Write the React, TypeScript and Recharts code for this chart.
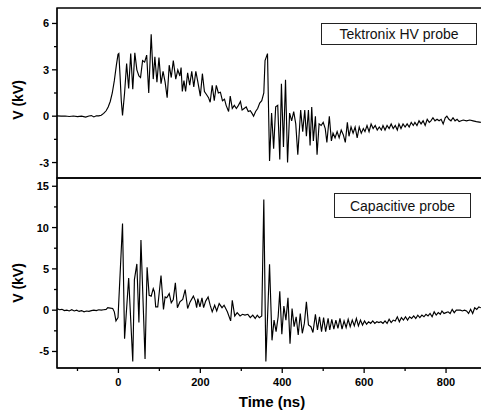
import { Legend, Line, LineChart, ReferenceArea, XAxis, YAxis } from 'recharts';

const FONT = '"Liberation Sans", Arial, sans-serif';

// axis ticks (minor ticks sit between the labelled ones)
const timeTicks = [-100, 0, 100, 200, 300, 400, 500, 600, 700, 800];
const timeLabels = [0, 200, 400, 600, 800];
const hvTicks = [-3, -1.5, 0, 1.5, 3, 4.5, 6];
const hvLabels = [-3, 0, 3, 6];
const capTicks = [-5, -2.5, 0, 2.5, 5, 7.5, 10, 12.5, 15];
const capLabels = [-5, 0, 5, 10, 15];

// [time (ns), voltage (kV)]
const hvProbe: [number, number][] = [
  [-150, 0.02], [-140, 0.0], [-130, 0.01], [-120, -0.02], [-110, 0.01], [-100, -0.03], [-90, 0.0], [-80, -0.06],
  [-72, 0.01], [-66, 0.04], [-60, -0.05], [-54, 0.03], [-48, 0.02], [-42, 0.06], [-36, 0.18], [-30, 0.35],
  [-25, 0.6], [-20, 0.95], [-15, 1.5], [-10, 2.3], [-5, 3.3], [-1, 4.0], [1, 4.05], [4, 2.6], [7, 1.0], [10, 0.05],
  [15, 1.5], [20, 3.4], [25, 1.8], [30, 4.05], [35, 1.75], [40, 4.1], [45, 3.0], [50, 2.6], [54, 2.5], [59, 3.6],
  [64, 3.5], [69, 3.95], [74, 1.5], [80, 5.3], [85, 2.4], [89, 3.85], [94, 2.2], [99, 3.8], [104, 2.1], [109, 2.9],
  [114, 2.2], [119, 1.2], [124, 3.3], [129, 2.5], [134, 3.6], [140, 2.4], [145, 3.0], [150, 2.6], [153, 3.15],
  [156, 1.6], [160, 2.3], [164, 1.6], [169, 2.8], [174, 2.0], [179, 2.9], [184, 1.9], [189, 2.9], [194, 2.2],
  [200, 1.3], [205, 2.75], [210, 1.6], [215, 1.4], [220, 1.2], [224, 0.9], [229, 2.0], [234, 1.0], [239, 2.0],
  [244, 1.5], [249, 1.55], [254, 1.0], [259, 1.1], [263, 0.7], [269, 0.3], [273, 1.3], [278, 0.5], [283, 0.7],
  [288, 0.5], [293, 0.7], [298, 0.95], [302, 0.4], [307, 0.5], [312, 0.6], [317, 0.3], [322, 0.35], [327, 0.15],
  [330, 0.0], [335, 0.3], [340, 0.5], [345, 0.85], [350, 1.0], [355, 1.5], [358, 3.6], [364, 4.05], [369, -2.9],
  [374, 0.2], [379, -2.1], [384, 0.6], [389, 0.7], [394, -2.8], [398, 2.1], [403, -2.0], [408, 2.35], [413, -3.0],
  [418, 0.2], [423, -0.3], [428, 0.3], [433, -0.5], [438, -2.5], [445, 0.4], [450, -1.0], [455, 0.4], [459, -1.3],
  [464, 0.4], [468, -1.9], [472, 0.6], [476, -1.6], [481, 0.0], [485, -2.5], [490, -0.5], [495, -0.6], [500, -0.4],
  [505, -0.8], [509, -1.7], [515, 0.0], [520, -1.6], [524, -1.1], [529, -1.4], [534, -1.0], [539, -1.4],
  [544, -0.9], [549, -1.2], [554, -1.7], [559, -0.4], [563, -1.3], [568, -0.7], [573, -1.1], [578, -0.7],
  [583, -1.4], [588, -0.7], [593, -1.1], [598, -0.8], [602, -1.0], [607, -0.6], [612, -1.0], [617, -0.5],
  [622, -0.8], [627, -0.6], [632, -0.9], [637, -0.7], [642, -0.9], [646, -0.6], [651, -0.9], [656, -0.6],
  [661, -0.8], [666, -0.5], [671, -0.8], [676, -0.6], [681, -0.9], [685, -0.5], [690, -0.8], [695, -0.5],
  [700, -0.7], [705, -0.5], [710, -0.7], [715, -0.4], [720, -0.6], [724, -0.4], [729, -0.6], [734, -0.3],
  [739, -0.5], [744, -0.3], [749, -0.6], [754, -0.2], [759, -0.4], [763, -0.3], [768, -0.1], [773, -0.3],
  [778, -0.2], [783, -0.3], [788, -0.2], [793, -0.5], [798, -0.1], [802, 0.0], [807, -0.2], [812, -0.3],
  [817, -0.1], [822, -0.3], [827, -0.2], [832, -0.35], [837, -0.3], [842, -0.25], [850, -0.3], [858, -0.25],
  [866, -0.3], [874, -0.35], [885, -0.4],
];

const capProbe: [number, number][] = [
  [-150, 0.2], [-144, 0.05], [-138, 0.1], [-132, -0.05], [-126, 0.0], [-120, -0.1], [-114, 0.05], [-108, -0.1],
  [-102, 0.0], [-96, -0.15], [-90, -0.05], [-84, -0.2], [-78, -0.1], [-72, -0.15], [-66, -0.05], [-60, 0.0],
  [-54, -0.05], [-48, 0.05], [-42, 0.0], [-36, 0.05], [-30, 0.1], [-26, 0.3], [-20, 0.25], [-14, 0.2],
  [-10, -0.2], [-6, -1.3], [-1, -0.9], [10, 10.5], [15, -3.45], [25, 3.9], [35, -6.2], [39, 3.7], [45, 5.6],
  [50, -1.5], [55, 8.5], [65, -5.9], [70, 5.2], [75, 1.8], [80, 1.7], [85, 2.6], [88, 2.2], [91, 0.4], [96, 0.4],
  [104, 4.2], [110, 0.1], [114, 1.6], [118, 1.5], [124, 2.0], [129, 0.9], [134, 1.3], [139, 3.3], [144, 0.3],
  [150, 1.0], [157, 1.3], [163, 2.5], [169, 0.2], [175, 1.0], [183, 1.7], [188, 1.1], [191, 0.3], [194, 1.4],
  [199, 0.4], [204, 1.5], [208, 0.3], [213, 1.1], [219, 1.6], [224, 0.6], [229, -0.2], [235, 0.6], [240, -0.1],
  [246, 0.8], [253, 0.3], [258, 0.6], [266, -0.2], [274, -1.3], [278, 1.2], [284, -0.7], [290, -0.3],
  [297, -0.7], [303, -0.5], [309, -0.6], [316, -0.5], [322, -0.9], [328, -0.6], [334, -1.0], [339, -0.6],
  [344, -0.9], [350, -0.7], [355, 13.4], [360, -6.2], [369, 5.55], [375, -3.65], [380, -1.2], [385, -2.6],
  [390, -0.8], [394, 2.3], [399, -2.9], [404, 0.5], [409, -1.2], [414, 1.5], [419, -4.05], [424, 0.2],
  [429, -2.0], [434, -0.8], [439, -3.0], [444, -0.4], [449, -2.8], [454, -1.6], [459, 1.0], [464, -1.8],
  [470, -2.0], [475, -2.7], [481, -0.5], [486, -2.4], [491, -0.8], [496, -2.6], [501, -0.9], [506, -2.6],
  [512, -1.0], [516, -2.4], [521, -1.1], [526, -2.3], [531, -1.2], [536, -2.2], [541, -1.0], [546, -2.3],
  [551, -1.3], [556, -2.1], [561, -1.1], [566, -2.0], [571, -1.2], [576, -1.9], [581, -1.0], [586, -1.9],
  [591, -1.2], [596, -1.8], [601, -1.3], [606, -1.7], [611, -1.4], [616, -1.6], [621, -1.3], [626, -1.6],
  [631, -1.4], [636, -1.5], [641, -1.4], [646, -1.6], [651, -1.3], [656, -1.6], [661, -1.1], [666, -1.5],
  [671, -1.2], [676, -1.3], [681, -0.8], [686, -1.4], [691, -0.9], [696, -1.2], [701, -0.8], [706, -1.2],
  [711, -0.8], [716, -1.0], [721, -0.7], [726, -1.0], [731, -0.6], [736, -0.9], [741, -0.6], [746, -0.8],
  [751, -0.5], [756, -0.7], [761, -0.4], [766, -0.8], [771, -0.2], [776, -0.6], [781, -0.3], [786, -0.5],
  [790, -0.1], [795, -0.4], [800, -0.3], [805, -0.2], [810, -0.4], [815, 0.1], [820, -0.3], [825, 0.0],
  [830, 0.0], [835, 0.0], [840, -0.1], [845, 0.0], [850, -0.1], [855, -0.4], [860, 0.1], [865, -0.4],
  [870, 0.3], [875, 0.1], [880, 0.4], [885, 0.3],
];

const timeDomain = [-150, 900];
const hvDomain = [-4, 7];
const capDomain = [-7, 16];

const hvData = hvProbe.map(([t, v]) => ({ t, v }));
const capData = capProbe.map(([t, v]) => ({ t, v }));

type Side = 'left' | 'right' | 'top' | 'bottom';
type Mode = 'in' | 'out' | 'both';

// Origin-style ticks: major/minor lengths, inward or outward
const tickMaker = (side: Side, mode: Mode, majors: number[], labelled: boolean) => (props: any) => {
  const { x, y, payload } = props;
  const v = payload.value;
  const major = majors.includes(v);
  const len = major ? 5 : 3;
  const [ox, oy] = side === 'left' ? [-1, 0] : side === 'right' ? [1, 0] : side === 'top' ? [0, -1] : [0, 1];
  const a = mode === 'out' ? 0 : -len;
  const b = mode === 'in' ? 0 : len;
  return (
    <g>
      <line x1={x + ox * a} y1={y + oy * a} x2={x + ox * b} y2={y + oy * b} stroke="#000" strokeWidth={1.3} />
      {labelled && major && side === 'left' && (
        <text x={x - 8} y={y} dy="0.36em" textAnchor="end" fontFamily={FONT} fontWeight="bold" fontSize={11} fill="#000">
          {v}
        </text>
      )}
      {labelled && major && side === 'bottom' && (
        <text x={x} y={y + 10} dy="0.71em" textAnchor="middle" fontFamily={FONT} fontWeight="bold" fontSize={11} fill="#000">
          {v}
        </text>
      )}
    </g>
  );
};

const yTitle = (cy: number) => () => (
  <text x={23} y={cy} transform={`rotate(-90 23 ${cy})`} textAnchor="middle" fontFamily={FONT} fontWeight="bold" fontSize={14} fill="#000">
    V (kV)
  </text>
);

const legendBox = (text: string, h: number) => () => (
  <div style={{ boxSizing: 'border-box', height: h, border: '1px solid #222', background: '#fff', fontFamily: FONT, fontSize: 14, color: '#111', display: 'flex', alignItems: 'center', justifyContent: 'center' }}>
    {text}
  </div>
);

const axisCommon = {
  type: 'number' as const,
  allowDataOverflow: true,
  interval: 0 as const,
  tickSize: 0,
  tickMargin: 0,
  tickLine: false,
  stroke: '#000',
};

const App = () => {
  return (
    <div style={{ position: 'absolute', left: 0, top: 0, width: 481, height: 414, overflow: 'hidden', background: '#fff' }}>
      <div style={{ position: 'absolute', left: 0, top: 0 }}>
        <LineChart width={488} height={180} data={hvData} margin={{ top: 8, right: 1, bottom: 2, left: 0 }}>
          <XAxis {...axisCommon} xAxisId="top" orientation="top" dataKey="t" domain={timeDomain}
            ticks={timeTicks} height={0} tick={tickMaker('top', 'in', timeLabels, false)} />
          <XAxis {...axisCommon} orientation="bottom" dataKey="t" domain={timeDomain}
            ticks={timeTicks} height={0} tick={tickMaker('bottom', 'in', timeLabels, false)} />
          <YAxis {...axisCommon} width={57} domain={hvDomain} ticks={hvTicks}
            tick={tickMaker('left', 'out', hvLabels, true)} label={{ content: yTitle(100) }} />
          <YAxis {...axisCommon} yAxisId="r" orientation="right" width={0} domain={hvDomain} ticks={hvTicks}
            tick={tickMaker('right', 'in', hvLabels, false)} />
          <ReferenceArea x1={timeDomain[0]} x2={timeDomain[1]} y1={hvDomain[0]} y2={hvDomain[1]}
            fill="none" fillOpacity={0} stroke="#000" strokeWidth={1.4} />
          <Line dataKey="v" name="Tektronix HV probe" type="linear" stroke="#000" strokeWidth={1.15} dot={false} isAnimationActive={false} />
          <Legend layout="vertical" align="center" verticalAlign="middle"
            wrapperStyle={{ top: 23, left: 321, width: 156, height: 22 }} content={legendBox('Tektronix HV probe', 22)} />
        </LineChart>
      </div>
      <div style={{ position: 'absolute', left: 0, top: 170 }}>
        <LineChart width={488} height={244} data={capData} margin={{ top: 8, right: 1, bottom: 0, left: 0 }}>
          <XAxis {...axisCommon} xAxisId="top" orientation="top" dataKey="t" domain={timeDomain}
            ticks={timeTicks} height={0} tick={tickMaker('top', 'in', timeLabels, false)} />
          <XAxis {...axisCommon} orientation="bottom" dataKey="t" domain={timeDomain}
            ticks={timeTicks} height={46} tick={tickMaker('bottom', 'out', timeLabels, true)}
            label={{ content: () => (
              <text x={272} y={237} textAnchor="middle" fontFamily={FONT} fontWeight="bold" fontSize={15} fill="#000">Time (ns)</text>
            ) }} />
          <YAxis {...axisCommon} width={57} domain={capDomain} ticks={capTicks}
            tick={tickMaker('left', 'out', capLabels, true)} label={{ content: yTitle(113) }} />
          <YAxis {...axisCommon} yAxisId="r" orientation="right" width={0} domain={capDomain} ticks={capTicks}
            tick={tickMaker('right', 'in', capLabels, false)} />
          <ReferenceArea x1={timeDomain[0]} x2={timeDomain[1]} y1={capDomain[0]} y2={capDomain[1]}
            fill="none" fillOpacity={0} stroke="#000" strokeWidth={1.4} />
          <Line dataKey="v" name="Capacitive probe" type="linear" stroke="#000" strokeWidth={1.15} dot={false} isAnimationActive={false} />
          <Legend layout="vertical" align="center" verticalAlign="middle"
            wrapperStyle={{ top: 23, left: 334, width: 137, height: 25 }} content={legendBox('Capacitive probe', 25)} />
        </LineChart>
      </div>
    </div>
  );
};

export default App;
